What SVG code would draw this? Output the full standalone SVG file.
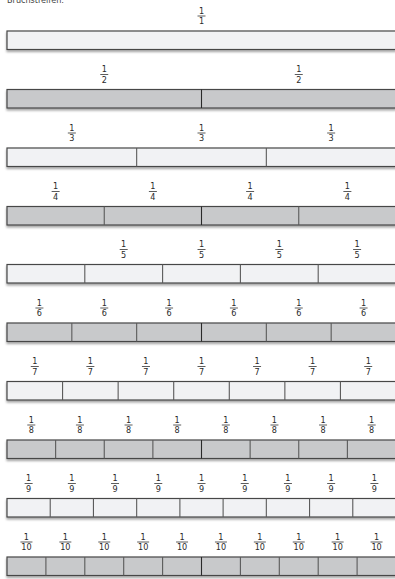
<svg xmlns="http://www.w3.org/2000/svg" width="395" height="579" viewBox="0 0 395 579">
<defs>
<filter id="sh" x="-5%" y="-30%" width="110%" height="180%">
<feDropShadow dx="0" dy="2" stdDeviation="1.3" flood-color="#000" flood-opacity="0.35"/>
</filter>
<style>
.lt{fill:#f1f2f4;stroke:#474747;stroke-width:1.2}
.dk{fill:#c8c9cb;stroke:#474747;stroke-width:1.2}
.dv{stroke:#5a5a5a;stroke-width:1.1}
.dm{stroke:#2a2a2a;stroke-width:1.1}
.fl{stroke:#333;stroke-width:0.8}
text{font-family:"DejaVu Sans Condensed","DejaVu Sans","Liberation Sans",sans-serif;font-stretch:condensed;font-size:9px;fill:#2a2a2a;text-anchor:middle}
.ttl{text-anchor:start;font-size:9px;fill:#444}
</style>
<g id="f1"><text y="0">1</text><line class="fl" x1="-4" x2="4" y1="2.5" y2="2.5"/></g>
<g id="f10"><text y="0">1</text><line class="fl" x1="-6" x2="6" y1="2.5" y2="2.5"/></g>
</defs>
<text class="ttl" x="7" y="3">Bruchstreifen:</text>

<g id="row1">
<rect class="lt" x="7" y="31" width="389" height="18.5" filter="url(#sh)"/>
<use href="#f1" x="201.5" y="13.5"/><text x="201.5" y="24">1</text>
</g>

<g id="row2">
<rect class="dk" x="7" y="89.5" width="389" height="18.5" filter="url(#sh)"/>
<line class="dm" x1="201.5" x2="201.5" y1="89.5" y2="108"/>
<use href="#f1" x="104.25" y="72"/><text x="104.25" y="82.5">2</text>
<use href="#f1" x="298.75" y="72"/><text x="298.75" y="82.5">2</text>
</g>

<g id="row3">
<rect class="lt" x="7" y="148" width="389" height="18.5" filter="url(#sh)"/>
<line class="dv" x1="136.67" x2="136.67" y1="148" y2="166.5"/>
<line class="dv" x1="266.33" x2="266.33" y1="148" y2="166.5"/>
<use href="#f1" x="71.83" y="130.5"/><text x="71.83" y="141">3</text>
<use href="#f1" x="201.5" y="130.5"/><text x="201.5" y="141">3</text>
<use href="#f1" x="331.17" y="130.5"/><text x="331.17" y="141">3</text>
</g>

<g id="row4">
<rect class="dk" x="7" y="206.5" width="389" height="18.5" filter="url(#sh)"/>
<line class="dv" x1="104.25" x2="104.25" y1="206.5" y2="225"/>
<line class="dm" x1="201.5" x2="201.5" y1="206.5" y2="225"/>
<line class="dv" x1="298.75" x2="298.75" y1="206.5" y2="225"/>
<use href="#f1" x="55.63" y="189"/><text x="55.63" y="199.5">4</text>
<use href="#f1" x="152.88" y="189"/><text x="152.88" y="199.5">4</text>
<use href="#f1" x="250.13" y="189"/><text x="250.13" y="199.5">4</text>
<use href="#f1" x="347.38" y="189"/><text x="347.38" y="199.5">4</text>
</g>

<g id="row5">
<rect class="lt" x="7" y="264.5" width="389" height="18.5" filter="url(#sh)"/>
<line class="dv" x1="84.8" x2="84.8" y1="264.5" y2="283"/>
<line class="dv" x1="162.6" x2="162.6" y1="264.5" y2="283"/>
<line class="dv" x1="240.4" x2="240.4" y1="264.5" y2="283"/>
<line class="dv" x1="318.2" x2="318.2" y1="264.5" y2="283"/>
<use href="#f1" x="123.7" y="247"/><text x="123.7" y="257.5">5</text>
<use href="#f1" x="201.5" y="247"/><text x="201.5" y="257.5">5</text>
<use href="#f1" x="279.3" y="247"/><text x="279.3" y="257.5">5</text>
<use href="#f1" x="357.1" y="247"/><text x="357.1" y="257.5">5</text>
</g>

<g id="row6">
<rect class="dk" x="7" y="323" width="389" height="18.5" filter="url(#sh)"/>
<line class="dv" x1="71.83" x2="71.83" y1="323" y2="341.5"/>
<line class="dv" x1="136.67" x2="136.67" y1="323" y2="341.5"/>
<line class="dm" x1="201.5" x2="201.5" y1="323" y2="341.5"/>
<line class="dv" x1="266.33" x2="266.33" y1="323" y2="341.5"/>
<line class="dv" x1="331.17" x2="331.17" y1="323" y2="341.5"/>
<use href="#f1" x="39.42" y="305.5"/><text x="39.42" y="316">6</text>
<use href="#f1" x="104.25" y="305.5"/><text x="104.25" y="316">6</text>
<use href="#f1" x="169.08" y="305.5"/><text x="169.08" y="316">6</text>
<use href="#f1" x="233.92" y="305.5"/><text x="233.92" y="316">6</text>
<use href="#f1" x="298.75" y="305.5"/><text x="298.75" y="316">6</text>
<use href="#f1" x="363.58" y="305.5"/><text x="363.58" y="316">6</text>
</g>

<g id="row7">
<rect class="lt" x="7" y="381.5" width="389" height="18.5" filter="url(#sh)"/>
<line class="dv" x1="62.57" x2="62.57" y1="381.5" y2="400"/>
<line class="dv" x1="118.14" x2="118.14" y1="381.5" y2="400"/>
<line class="dv" x1="173.71" x2="173.71" y1="381.5" y2="400"/>
<line class="dv" x1="229.29" x2="229.29" y1="381.5" y2="400"/>
<line class="dv" x1="284.86" x2="284.86" y1="381.5" y2="400"/>
<line class="dv" x1="340.43" x2="340.43" y1="381.5" y2="400"/>
<use href="#f1" x="34.79" y="364"/><text x="34.79" y="374.5">7</text>
<use href="#f1" x="90.36" y="364"/><text x="90.36" y="374.5">7</text>
<use href="#f1" x="145.93" y="364"/><text x="145.93" y="374.5">7</text>
<use href="#f1" x="201.5" y="364"/><text x="201.5" y="374.5">7</text>
<use href="#f1" x="257.07" y="364"/><text x="257.07" y="374.5">7</text>
<use href="#f1" x="312.64" y="364"/><text x="312.64" y="374.5">7</text>
<use href="#f1" x="368.21" y="364"/><text x="368.21" y="374.5">7</text>
</g>

<g id="row8">
<rect class="dk" x="7" y="440" width="389" height="18.5" filter="url(#sh)"/>
<line class="dv" x1="55.63" x2="55.63" y1="440" y2="458.5"/>
<line class="dv" x1="104.25" x2="104.25" y1="440" y2="458.5"/>
<line class="dv" x1="152.88" x2="152.88" y1="440" y2="458.5"/>
<line class="dm" x1="201.5" x2="201.5" y1="440" y2="458.5"/>
<line class="dv" x1="250.13" x2="250.13" y1="440" y2="458.5"/>
<line class="dv" x1="298.75" x2="298.75" y1="440" y2="458.5"/>
<line class="dv" x1="347.38" x2="347.38" y1="440" y2="458.5"/>
<use href="#f1" x="31.31" y="422.5"/><text x="31.31" y="433">8</text>
<use href="#f1" x="79.94" y="422.5"/><text x="79.94" y="433">8</text>
<use href="#f1" x="128.56" y="422.5"/><text x="128.56" y="433">8</text>
<use href="#f1" x="177.19" y="422.5"/><text x="177.19" y="433">8</text>
<use href="#f1" x="225.81" y="422.5"/><text x="225.81" y="433">8</text>
<use href="#f1" x="274.44" y="422.5"/><text x="274.44" y="433">8</text>
<use href="#f1" x="323.06" y="422.5"/><text x="323.06" y="433">8</text>
<use href="#f1" x="371.69" y="422.5"/><text x="371.69" y="433">8</text>
</g>

<g id="row9">
<rect class="lt" x="7" y="498.5" width="389" height="18.5" filter="url(#sh)"/>
<line class="dv" x1="50.22" x2="50.22" y1="498.5" y2="517"/>
<line class="dv" x1="93.44" x2="93.44" y1="498.5" y2="517"/>
<line class="dv" x1="136.67" x2="136.67" y1="498.5" y2="517"/>
<line class="dv" x1="179.89" x2="179.89" y1="498.5" y2="517"/>
<line class="dv" x1="223.11" x2="223.11" y1="498.5" y2="517"/>
<line class="dv" x1="266.33" x2="266.33" y1="498.5" y2="517"/>
<line class="dv" x1="309.56" x2="309.56" y1="498.5" y2="517"/>
<line class="dv" x1="352.78" x2="352.78" y1="498.5" y2="517"/>
<use href="#f1" x="28.61" y="481"/><text x="28.61" y="491.5">9</text>
<use href="#f1" x="71.83" y="481"/><text x="71.83" y="491.5">9</text>
<use href="#f1" x="115.06" y="481"/><text x="115.06" y="491.5">9</text>
<use href="#f1" x="158.28" y="481"/><text x="158.28" y="491.5">9</text>
<use href="#f1" x="201.5" y="481"/><text x="201.5" y="491.5">9</text>
<use href="#f1" x="244.72" y="481"/><text x="244.72" y="491.5">9</text>
<use href="#f1" x="287.94" y="481"/><text x="287.94" y="491.5">9</text>
<use href="#f1" x="331.17" y="481"/><text x="331.17" y="491.5">9</text>
<use href="#f1" x="374.39" y="481"/><text x="374.39" y="491.5">9</text>
</g>

<g id="row10">
<rect class="dk" x="7" y="557" width="389" height="18.5" filter="url(#sh)"/>
<line class="dv" x1="45.9" x2="45.9" y1="557" y2="575.5"/>
<line class="dv" x1="84.8" x2="84.8" y1="557" y2="575.5"/>
<line class="dv" x1="123.7" x2="123.7" y1="557" y2="575.5"/>
<line class="dv" x1="162.6" x2="162.6" y1="557" y2="575.5"/>
<line class="dm" x1="201.5" x2="201.5" y1="557" y2="575.5"/>
<line class="dv" x1="240.4" x2="240.4" y1="557" y2="575.5"/>
<line class="dv" x1="279.3" x2="279.3" y1="557" y2="575.5"/>
<line class="dv" x1="318.2" x2="318.2" y1="557" y2="575.5"/>
<line class="dv" x1="357.1" x2="357.1" y1="557" y2="575.5"/>
<use href="#f10" x="26.45" y="539.5"/><text x="26.45" y="550">10</text>
<use href="#f10" x="65.35" y="539.5"/><text x="65.35" y="550">10</text>
<use href="#f10" x="104.25" y="539.5"/><text x="104.25" y="550">10</text>
<use href="#f10" x="143.15" y="539.5"/><text x="143.15" y="550">10</text>
<use href="#f10" x="182.05" y="539.5"/><text x="182.05" y="550">10</text>
<use href="#f10" x="220.95" y="539.5"/><text x="220.95" y="550">10</text>
<use href="#f10" x="259.85" y="539.5"/><text x="259.85" y="550">10</text>
<use href="#f10" x="298.75" y="539.5"/><text x="298.75" y="550">10</text>
<use href="#f10" x="337.65" y="539.5"/><text x="337.65" y="550">10</text>
<use href="#f10" x="376.55" y="539.5"/><text x="376.55" y="550">10</text>
</g>
</svg>
